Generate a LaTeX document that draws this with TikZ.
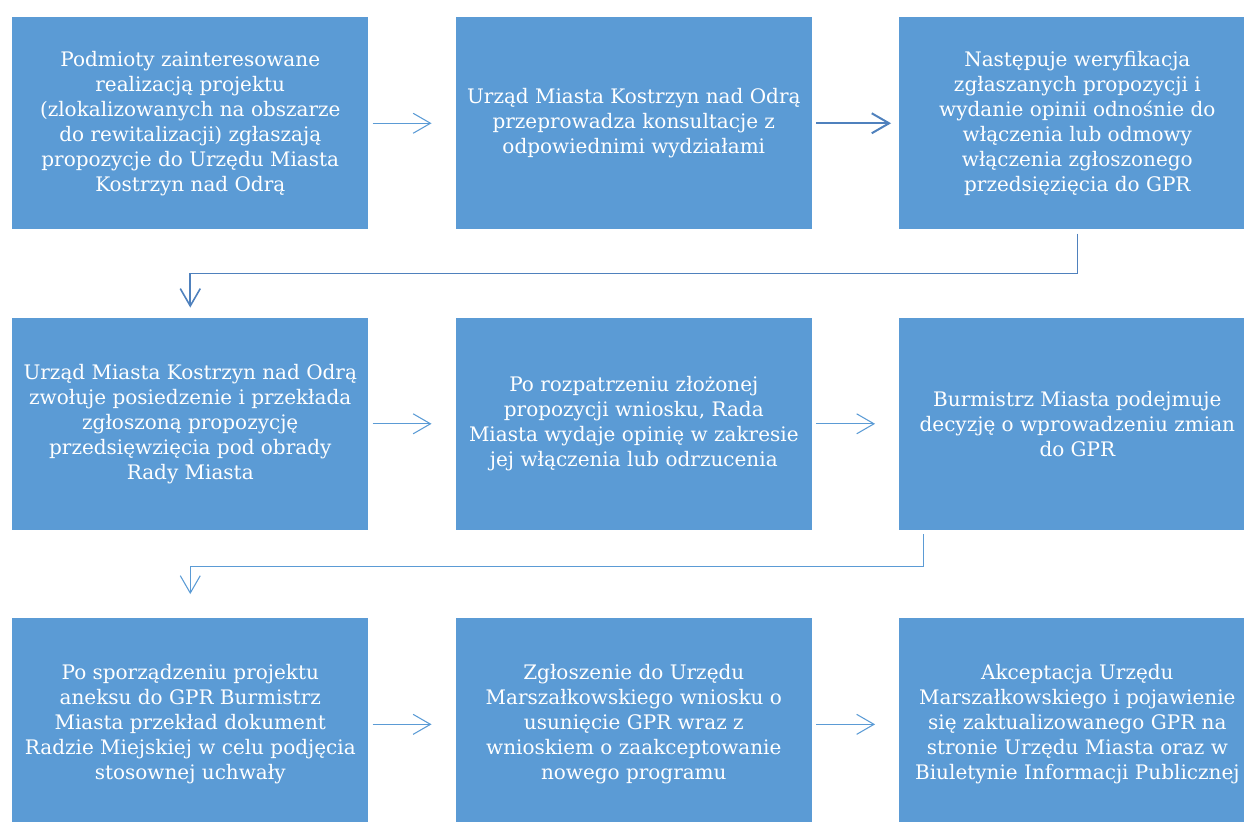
\documentclass[tikz,border=0pt]{standalone}
\usepackage{fontspec}
\setmainfont{DejaVu Serif}
\definecolor{BoxBlue}{HTML}{5B9BD5}
\definecolor{LineBlue}{HTML}{5B9BD5}
\definecolor{DarkLine}{HTML}{4F81BD}
\usetikzlibrary{arrows.meta,positioning,calc}

\begin{document}
\begin{tikzpicture}[
      node distance=66pt and 65.25pt,
      stepbox/.style={rectangle, fill=BoxBlue, text=white, align=center, inner sep=0pt,
        minimum width=267pt, minimum height=159pt, font=\fontsize{15}{18.75}\selectfont},
      flow/.style={draw=LineBlue, line width=0.8pt, -{Straight Barb[length=13pt, width=15pt, line width=0.8pt]}},
      flowdark/.style={flow, draw=DarkLine, line width=1.5pt, -{Straight Barb[length=13pt, width=15pt, line width=1.5pt]}},
      turn/.style={flow, draw=DarkLine, line width=1.2pt, -{Straight Barb[length=13pt, width=15pt, line width=1.2pt]}}
    ]
      \useasboundingbox (0,0) rectangle (933pt,-615.75pt);
      % row 1
      \node[stepbox, anchor=north west] (zgloszenie) at (9pt,-12.75pt)
        {Podmioty zainteresowane\\realizacją projektu\\(zlokalizowanych na obszarze\\do rewitalizacji) zgłaszają\\propozycje do Urzędu Miasta\\Kostrzyn nad Odrą};
      \node[stepbox, right=of zgloszenie] (konsultacje)
        {Urząd Miasta Kostrzyn nad Odrą\\przeprowadza konsultacje z\\odpowiednimi wydziałami};
      \node[stepbox, right=of konsultacje] (weryfikacja)
        {Następuje weryfikacja\\zgłaszanych propozycji i\\wydanie opinii odnośnie do\\włączenia lub odmowy\\włączenia zgłoszonego\\przedsięzięcia do GPR};
      % row 2
      \node[stepbox, below=of zgloszenie] (posiedzenie)
        {Urząd Miasta Kostrzyn nad Odrą\\zwołuje posiedzenie i przekłada\\zgłoszoną propozycję\\przedsięwzięcia pod obrady\\Rady Miasta};
      \node[stepbox, right=of posiedzenie] (opinia)
        {Po rozpatrzeniu złożonej\\propozycji wniosku, Rada\\Miasta wydaje opinię w zakresie\\jej włączenia lub odrzucenia};
      \node[stepbox, right=of opinia] (decyzja)
        {Burmistrz Miasta podejmuje\\decyzję o wprowadzeniu zmian\\do GPR};
      % row 3
      \node[stepbox, below=of posiedzenie] (aneks)
        {Po sporządzeniu projektu\\aneksu do GPR Burmistrz\\Miasta przekład dokument\\Radzie Miejskiej w celu podjęcia\\stosownej uchwały};
      \node[stepbox, right=of aneks] (marszalek)
        {Zgłoszenie do Urzędu\\Marszałkowskiego wniosku o\\usunięcie GPR wraz z\\wnioskiem o zaakceptowanie\\nowego programu};
      \node[stepbox, right=of marszalek] (akceptacja)
        {Akceptacja Urzędu\\Marszałkowskiego i pojawienie\\się zaktualizowanego GPR na\\stronie Urzędu Miasta oraz w\\Biuletynie Informacji Publicznej};
      % connectors
      \draw[flow] ([xshift=3pt]zgloszenie.east) -- ([xshift=-18pt]konsultacje.west);
      \draw[flowdark] ([xshift=3pt]konsultacje.east) -- ([xshift=-6pt]weryfikacja.west);
      \draw[turn] ([yshift=-3pt]weryfikacja.south) -- ++(0,-30pt) -| ([yshift=7.5pt]posiedzenie.north);
      \draw[flow] ([xshift=3pt]posiedzenie.east) -- ([xshift=-18pt]opinia.west);
      \draw[flow] ([xshift=3pt]opinia.east) -- ([xshift=-18pt]decyzja.west);
      \draw[flow] ([xshift=18pt,yshift=-3pt]decyzja.south west) -- ++(0,-24pt) -| ([yshift=18pt]aneks.north);
      \draw[flow] ([xshift=3pt]aneks.east) -- ([xshift=-18pt]marszalek.west);
      \draw[flow] ([xshift=3pt]marszalek.east) -- ([xshift=-18pt]akceptacja.west);
    \end{tikzpicture}
\end{document}
